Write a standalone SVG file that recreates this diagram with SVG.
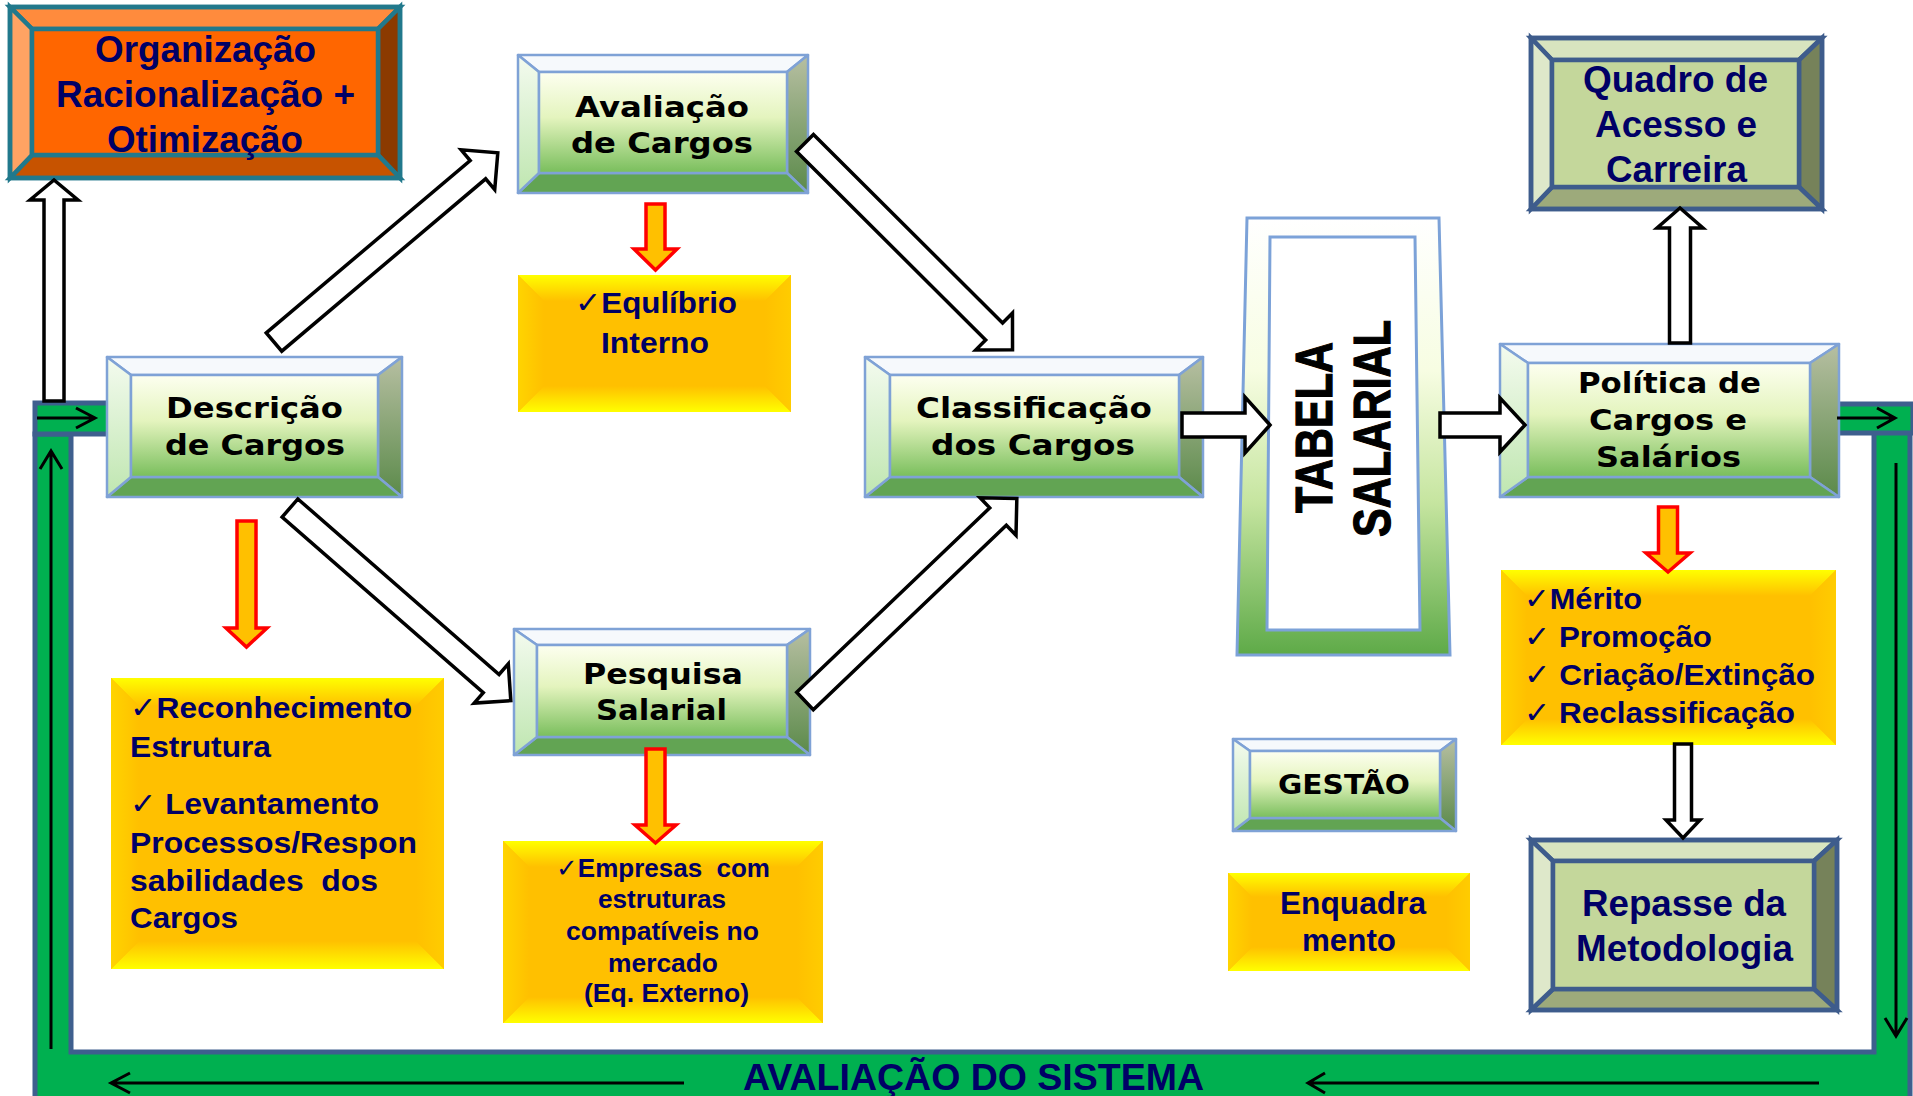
<svg xmlns="http://www.w3.org/2000/svg" width="1913" height="1096" viewBox="0 0 1913 1096">
<defs>
<linearGradient id="gFace" x1="0" y1="0" x2="0" y2="1"><stop offset="0" stop-color="#FDFFF0"/><stop offset="0.45" stop-color="#E4F4BE"/><stop offset="1" stop-color="#79BE5C"/></linearGradient>
<linearGradient id="gLeft" x1="0" y1="0" x2="0" y2="1"><stop offset="0" stop-color="#F4FBEF"/><stop offset="1" stop-color="#BFE6B0"/></linearGradient>
<linearGradient id="gRight" x1="0" y1="0" x2="0" y2="1"><stop offset="0" stop-color="#B7BFA2"/><stop offset="1" stop-color="#5B8A4A"/></linearGradient>
<linearGradient id="yTop" x1="0" y1="0" x2="0" y2="1"><stop offset="0" stop-color="#FFFF00"/><stop offset="1" stop-color="#FFC000"/></linearGradient>
<linearGradient id="yBot" x1="0" y1="0" x2="0" y2="1"><stop offset="0" stop-color="#FFC000"/><stop offset="1" stop-color="#FFFF00"/></linearGradient>
<linearGradient id="yLeft" x1="0" y1="0" x2="1" y2="0"><stop offset="0" stop-color="#FFD400"/><stop offset="1" stop-color="#FFC000"/></linearGradient>
<linearGradient id="yRight" x1="0" y1="0" x2="1" y2="0"><stop offset="0" stop-color="#FFC000"/><stop offset="1" stop-color="#FFCC00"/></linearGradient>
<linearGradient id="tab" x1="0" y1="0" x2="0" y2="1"><stop offset="0" stop-color="#FFFFFF"/><stop offset="0.35" stop-color="#F7FDE2"/><stop offset="0.65" stop-color="#C6E5A0"/><stop offset="1" stop-color="#5EAA48"/></linearGradient>
<style>
.t-nv{font-family:"Liberation Sans",Arial,"DejaVu Sans",sans-serif;font-weight:bold;fill:#000066}
.t-bk{font-family:"DejaVu Sans",Verdana,sans-serif;font-weight:bold;fill:#000}
.pre{white-space:pre}
.hollow{fill:#fff;stroke:#000;stroke-width:3.5;stroke-linejoin:miter}
.red{fill:#FFC000;stroke:#FF0000;stroke-width:3.5;stroke-linejoin:miter}
.ln{fill:none;stroke:#000;stroke-width:3}
.gbox path,.gbox rect{stroke:#7FA2D6;stroke-width:2.5;stroke-linejoin:round}
.gbox .tp{fill:#F6F9FC}.gbox .lf{fill:url(#gLeft)}.gbox .rt{fill:url(#gRight)}.gbox .bt{fill:#62A453}.gbox .fc{fill:url(#gFace)}
.obox path,.obox rect{stroke:#3E5C8C;stroke-width:4.5;stroke-linejoin:miter}
.obox .tp{fill:#D8E4BF}.obox .lf{fill:#DEE8CA}.obox .rt{fill:#76825A}.obox .bt{fill:#9DAA7B}.obox .fc{fill:#C4D79B}
.rbox path,.rbox rect{stroke:#21798C;stroke-width:4.5;stroke-linejoin:miter}
.rbox .tp{fill:#FF8B3D}.rbox .lf{fill:#FFA363}.rbox .rt{fill:#8B3A00}.rbox .bt{fill:#C75300}.rbox .fc{fill:#FF6600}
.ybox .tp{fill:url(#yTop)}.ybox .bt{fill:url(#yBot)}.ybox .lf{fill:url(#yLeft)}.ybox .rt{fill:url(#yRight)}.ybox .fc{fill:#FFC000}
.frame{fill:#00B050;stroke:#3E5F8E;stroke-width:5}
</style>
</defs>
<rect width="1913" height="1096" fill="#fff"/>

<!-- green frame -->
<g id="frame">
<path class="frame" d="M35,1110 V434 H71 V1052 H1874 V432 H1910 V1110 Z"/>
<rect class="frame" x="35" y="403" width="75" height="31"/>
<rect class="frame" x="1835" y="404" width="78" height="29"/>
<text class="t-nv" x="743" y="1090" font-size="37" textLength="461" lengthAdjust="spacingAndGlyphs">AVALIAÇÃO DO SISTEMA</text>
</g>

<!-- Organização -->
<g id="organizacao" class="rbox">
<path class="tp" d="M10,7 L400,7 L378,29 L32,29 Z"/>
<path class="rt" d="M400,7 L400,178 L378,155 L378,29 Z"/>
<path class="bt" d="M10,178 L400,178 L378,155 L32,155 Z"/>
<path class="lf" d="M10,7 L32,29 L32,155 L10,178 Z"/>
<rect class="fc" x="32" y="29" width="346" height="126"/>
<rect x="10" y="7" width="390" height="171" fill="none"/>
<text class="t-nv" x="95" y="62" font-size="37" textLength="221" lengthAdjust="spacingAndGlyphs">Organização</text>
<text class="t-nv" x="56" y="107" font-size="37" textLength="299" lengthAdjust="spacingAndGlyphs">Racionalização +</text>
<text class="t-nv" x="107" y="152" font-size="37" textLength="196" lengthAdjust="spacingAndGlyphs">Otimização</text>
</g>

<!-- Avaliação de Cargos -->
<g id="avaliacao" class="gbox">
<path class="tp" d="M518,55 L808,55 L787,72 L539,72 Z"/>
<path class="rt" d="M808,55 L808,193 L787,173 L787,72 Z"/>
<path class="bt" d="M518,193 L808,193 L787,173 L539,173 Z"/>
<path class="lf" d="M518,55 L539,72 L539,173 L518,193 Z"/>
<rect class="fc" x="539" y="72" width="248" height="101"/>
<text class="t-bk" x="575" y="117" font-size="29" textLength="174" lengthAdjust="spacingAndGlyphs">Avaliação</text>
<text class="t-bk" x="571" y="153" font-size="29" textLength="182" lengthAdjust="spacingAndGlyphs">de Cargos</text>
</g>

<!-- Descrição de Cargos -->
<g id="descricao" class="gbox">
<path class="tp" d="M107,357 L402,357 L378,375 L131,375 Z"/>
<path class="rt" d="M402,357 L402,497 L378,477 L378,375 Z"/>
<path class="bt" d="M107,497 L402,497 L378,477 L131,477 Z"/>
<path class="lf" d="M107,357 L131,375 L131,477 L107,497 Z"/>
<rect class="fc" x="131" y="375" width="247" height="102"/>
<text class="t-bk" x="166" y="418" font-size="29" textLength="177" lengthAdjust="spacingAndGlyphs">Descrição</text>
<text class="t-bk" x="165" y="455" font-size="29" textLength="180" lengthAdjust="spacingAndGlyphs">de Cargos</text>
</g>

<!-- Classificação dos Cargos -->
<g id="classificacao" class="gbox">
<path class="tp" d="M865,357 L1203,357 L1179,375 L890,375 Z"/>
<path class="rt" d="M1203,357 L1203,497 L1179,477 L1179,375 Z"/>
<path class="bt" d="M865,497 L1203,497 L1179,477 L890,477 Z"/>
<path class="lf" d="M865,357 L890,375 L890,477 L865,497 Z"/>
<rect class="fc" x="890" y="375" width="289" height="102"/>
<text class="t-bk" x="916" y="418" font-size="29" textLength="236" lengthAdjust="spacingAndGlyphs">Classificação</text>
<text class="t-bk" x="931" y="455" font-size="29" textLength="204" lengthAdjust="spacingAndGlyphs">dos Cargos</text>
</g>

<!-- Pesquisa Salarial -->
<g id="pesquisa" class="gbox">
<path class="tp" d="M514,629 L810,629 L787,645 L537,645 Z"/>
<path class="rt" d="M810,629 L810,755 L787,737 L787,645 Z"/>
<path class="bt" d="M514,755 L810,755 L787,737 L537,737 Z"/>
<path class="lf" d="M514,629 L537,645 L537,737 L514,755 Z"/>
<rect class="fc" x="537" y="645" width="250" height="92"/>
<text class="t-bk" x="583" y="684" font-size="29" textLength="160" lengthAdjust="spacingAndGlyphs">Pesquisa</text>
<text class="t-bk" x="596" y="720" font-size="29" textLength="131" lengthAdjust="spacingAndGlyphs">Salarial</text>
</g>

<!-- Política de Cargos e Salários -->
<g id="politica" class="gbox">
<path class="tp" d="M1500,344 L1839,344 L1810,363 L1528,363 Z"/>
<path class="rt" d="M1839,344 L1839,497 L1810,477 L1810,363 Z"/>
<path class="bt" d="M1500,497 L1839,497 L1810,477 L1528,477 Z"/>
<path class="lf" d="M1500,344 L1528,363 L1528,477 L1500,497 Z"/>
<rect class="fc" x="1528" y="363" width="282" height="114"/>
<text class="t-bk" x="1578" y="393" font-size="28" textLength="183" lengthAdjust="spacingAndGlyphs">Política de</text>
<text class="t-bk" x="1589" y="430" font-size="28" textLength="158" lengthAdjust="spacingAndGlyphs">Cargos e</text>
<text class="t-bk" x="1596" y="467" font-size="28" textLength="145" lengthAdjust="spacingAndGlyphs">Salários</text>
</g>

<!-- GESTÃO -->
<g id="gestao" class="gbox">
<path class="tp" d="M1233,739 L1456,739 L1440,751 L1250,751 Z"/>
<path class="rt" d="M1456,739 L1456,831 L1440,818 L1440,751 Z"/>
<path class="bt" d="M1233,831 L1456,831 L1440,818 L1250,818 Z"/>
<path class="lf" d="M1233,739 L1250,751 L1250,818 L1233,831 Z"/>
<rect class="fc" x="1250" y="751" width="190" height="67"/>
<text class="t-bk" x="1278" y="794" font-size="27" textLength="132" lengthAdjust="spacingAndGlyphs">GESTÃO</text>
</g>

<!-- Quadro de Acesso e Carreira -->
<g id="quadro" class="obox">
<path class="tp" d="M1531,38 L1822,38 L1799,60 L1552,60 Z"/>
<path class="rt" d="M1822,38 L1822,209 L1799,187 L1799,60 Z"/>
<path class="bt" d="M1531,209 L1822,209 L1799,187 L1552,187 Z"/>
<path class="lf" d="M1531,38 L1552,60 L1552,187 L1531,209 Z"/>
<rect class="fc" x="1552" y="60" width="247" height="127"/>
<rect x="1531" y="38" width="291" height="171" fill="none"/>
<text class="t-nv" x="1583" y="92" font-size="37" textLength="185" lengthAdjust="spacingAndGlyphs">Quadro de</text>
<text class="t-nv" x="1595" y="137" font-size="37" textLength="162" lengthAdjust="spacingAndGlyphs">Acesso e</text>
<text class="t-nv" x="1606" y="182" font-size="37" textLength="141" lengthAdjust="spacingAndGlyphs">Carreira</text>
</g>

<!-- Repasse da Metodologia -->
<g id="repasse" class="obox">
<path class="tp" d="M1531,840 L1837,840 L1814,861 L1553,861 Z"/>
<path class="rt" d="M1837,840 L1837,1010 L1814,989 L1814,861 Z"/>
<path class="bt" d="M1531,1010 L1837,1010 L1814,989 L1553,989 Z"/>
<path class="lf" d="M1531,840 L1553,861 L1553,989 L1531,1010 Z"/>
<rect class="fc" x="1553" y="861" width="261" height="128"/>
<rect x="1531" y="840" width="306" height="170" fill="none"/>
<text class="t-nv" x="1582" y="916" font-size="37" textLength="204" lengthAdjust="spacingAndGlyphs">Repasse da</text>
<text class="t-nv" x="1576" y="961" font-size="37" textLength="217" lengthAdjust="spacingAndGlyphs">Metodologia</text>
</g>

<!-- TABELA SALARIAL -->
<g id="tabela">
<path d="M1247,218 L1439,218 L1450,655 L1237,655 Z" fill="url(#tab)" stroke="#7CA2D8" stroke-width="3"/>
<path d="M1270,237 L1415,237 L1420,630 L1267,630 Z" fill="#fff" stroke="#7CA2D8" stroke-width="3"/>
<text class="t-bk" font-family="Liberation Sans, Arial, sans-serif" font-size="43" stroke="#000" stroke-width="1" text-anchor="middle" textLength="171" lengthAdjust="spacingAndGlyphs" transform="translate(1332,427.5) rotate(-90) scale(1,1.2)" style="font-family:'Liberation Sans',Arial,sans-serif">TABELA</text>
<text class="t-bk" font-size="43" stroke="#000" stroke-width="1" text-anchor="middle" textLength="217" lengthAdjust="spacingAndGlyphs" transform="translate(1390,428.5) rotate(-90) scale(1,1.2)" style="font-family:'Liberation Sans',Arial,sans-serif">SALARIAL</text>
</g>

<!-- Yellow boxes -->
<g id="equilibrio" class="ybox">
<rect class="fc" x="518" y="275" width="273" height="137"/>
<path class="tp" d="M518,275 L791,275 L765,301 L544,301 Z"/>
<path class="bt" d="M518,412 L791,412 L765,386 L544,386 Z"/>
<path class="lf" d="M518,275 L544,301 L544,386 L518,412 Z"/>
<path class="rt" d="M791,275 L791,412 L765,386 L765,301 Z"/>
<text class="t-nv" x="575" y="313" font-size="30" textLength="162" lengthAdjust="spacingAndGlyphs">✓Equlíbrio</text>
<text class="t-nv" x="601" y="353" font-size="30" textLength="108" lengthAdjust="spacingAndGlyphs">Interno</text>
</g>

<g id="reconhecimento" class="ybox">
<rect class="fc" x="111" y="678" width="333" height="291"/>
<path class="tp" d="M111,678 L444,678 L416,706 L139,706 Z"/>
<path class="bt" d="M111,969 L444,969 L416,941 L139,941 Z"/>
<path class="lf" d="M111,678 L139,706 L139,941 L111,969 Z"/>
<path class="rt" d="M444,678 L444,969 L416,941 L416,706 Z"/>
<text class="t-nv" x="130" y="718" font-size="30" textLength="282" lengthAdjust="spacingAndGlyphs">✓Reconhecimento</text>
<text class="t-nv" x="130" y="757" font-size="30" textLength="141" lengthAdjust="spacingAndGlyphs">Estrutura</text>
<text class="t-nv" x="130" y="814" font-size="30" textLength="249" lengthAdjust="spacingAndGlyphs">✓ Levantamento</text>
<text class="t-nv" x="130" y="853" font-size="30" textLength="287" lengthAdjust="spacingAndGlyphs">Processos/Respon</text>
<text class="t-nv pre" x="130" y="891" font-size="30" textLength="248" lengthAdjust="spacingAndGlyphs">sabilidades  dos</text>
<text class="t-nv" x="130" y="928" font-size="30" textLength="108" lengthAdjust="spacingAndGlyphs">Cargos</text>
</g>

<g id="empresas" class="ybox">
<rect class="fc" x="503" y="841" width="320" height="182"/>
<path class="tp" d="M503,841 L823,841 L797,867 L529,867 Z"/>
<path class="bt" d="M503,1023 L823,1023 L797,997 L529,997 Z"/>
<path class="lf" d="M503,841 L529,867 L529,997 L503,1023 Z"/>
<path class="rt" d="M823,841 L823,1023 L797,997 L797,867 Z"/>
<text class="t-nv pre" x="556" y="877" font-size="26" textLength="214" lengthAdjust="spacingAndGlyphs">✓Empresas  com</text>
<text class="t-nv" x="598" y="908" font-size="26" textLength="128" lengthAdjust="spacingAndGlyphs">estruturas</text>
<text class="t-nv" x="566" y="940" font-size="26" textLength="193" lengthAdjust="spacingAndGlyphs">compatíveis no</text>
<text class="t-nv" x="608" y="972" font-size="26" textLength="110" lengthAdjust="spacingAndGlyphs">mercado</text>
<text class="t-nv" x="584" y="1002" font-size="26" textLength="165" lengthAdjust="spacingAndGlyphs">(Eq. Externo)</text>
</g>

<g id="merito" class="ybox">
<rect class="fc" x="1501" y="570" width="335" height="175"/>
<path class="tp" d="M1501,570 L1836,570 L1810,596 L1527,596 Z"/>
<path class="bt" d="M1501,745 L1836,745 L1810,719 L1527,719 Z"/>
<path class="lf" d="M1501,570 L1527,596 L1527,719 L1501,745 Z"/>
<path class="rt" d="M1836,570 L1836,745 L1810,719 L1810,596 Z"/>
<text class="t-nv" x="1524" y="609" font-size="30" textLength="118" lengthAdjust="spacingAndGlyphs">✓Mérito</text>
<text class="t-nv" x="1524" y="647" font-size="30" textLength="188" lengthAdjust="spacingAndGlyphs">✓ Promoção</text>
<text class="t-nv" x="1524" y="685" font-size="30" textLength="291" lengthAdjust="spacingAndGlyphs">✓ Criação/Extinção</text>
<text class="t-nv" x="1524" y="723" font-size="30" textLength="271" lengthAdjust="spacingAndGlyphs">✓ Reclassificação</text>
</g>

<g id="enquadramento" class="ybox">
<rect class="fc" x="1228" y="873" width="242" height="98"/>
<path class="tp" d="M1228,873 L1470,873 L1446,897 L1252,897 Z"/>
<path class="bt" d="M1228,971 L1470,971 L1446,947 L1252,947 Z"/>
<path class="lf" d="M1228,873 L1252,897 L1252,947 L1228,971 Z"/>
<path class="rt" d="M1470,873 L1470,971 L1446,947 L1446,897 Z"/>
<text class="t-nv" x="1280" y="914" font-size="31" textLength="146" lengthAdjust="spacingAndGlyphs">Enquadra</text>
<text class="t-nv" x="1302" y="951" font-size="31" textLength="94" lengthAdjust="spacingAndGlyphs">mento</text>
</g>

<!-- connectors -->
<g id="connectors">
<polygon class="hollow" points="0,-12 267,-12 267,-26 293,0 267,26 267,12 0,12" transform="translate(274,342) rotate(-40.2)"/>
<polygon class="hollow" points="0,-12 267,-12 267,-26 293,0 267,26 267,12 0,12" transform="translate(290,508) rotate(41.1)"/>
<polygon class="hollow" points="0,-12 267,-12 267,-26 293,0 267,26 267,12 0,12" transform="translate(805,143) rotate(44.9)"/>
<polygon class="hollow" points="0,-12 267,-12 267,-26 293,0 267,26 267,12 0,12" transform="translate(805,701) rotate(-43.7)"/>
<polygon class="hollow" points="1182,413 1245,413 1245,397 1270,425 1245,453 1245,437 1182,437"/>
<polygon class="hollow" points="1440,413 1500,413 1500,398 1525,425 1500,452 1500,437 1440,437"/>
<polygon class="hollow" points="1669.5,343 1669.5,228 1657,228 1680,208 1703,228 1690.5,228 1690.5,343"/>
<polygon class="hollow" points="1674.5,744 1691.5,744 1691.5,820 1700,820 1683,838 1666,820 1674.5,820"/>
<polygon class="hollow" points="44,401 44,200 30,200 54,180 78,200 64,200 64,401"/>
<polygon class="red" points="646,204 665,204 665,249 677,249 655.5,270 634,249 646,249"/>
<polygon class="red" points="237,521 256,521 256,628 267,628 246.5,647 226,628 237,628"/>
<polygon class="red" points="646,749 665,749 665,825 676,825 655.5,843 635,825 646,825"/>
<polygon class="red" points="1658.5,507 1677.5,507 1677.5,553 1690,553 1668,572 1646,553 1658.5,553"/>
<path class="ln" d="M37,418 H95 M76,408 L95,418 L76,428"/>
<path class="ln" d="M51,1049 V452 M40,469 L51,451 L62,469"/>
<path class="ln" d="M1837,418 H1895 M1877,408 L1895,418 L1877,428"/>
<path class="ln" d="M1896,463 V1035 M1885,1018 L1896,1036 L1907,1018"/>
<path class="ln" d="M684,1083 H112 M130,1073 L111,1083 L130,1093"/>
<path class="ln" d="M1819,1083 H1309 M1325,1073 L1308,1083 L1325,1093"/>
</g>
</svg>
